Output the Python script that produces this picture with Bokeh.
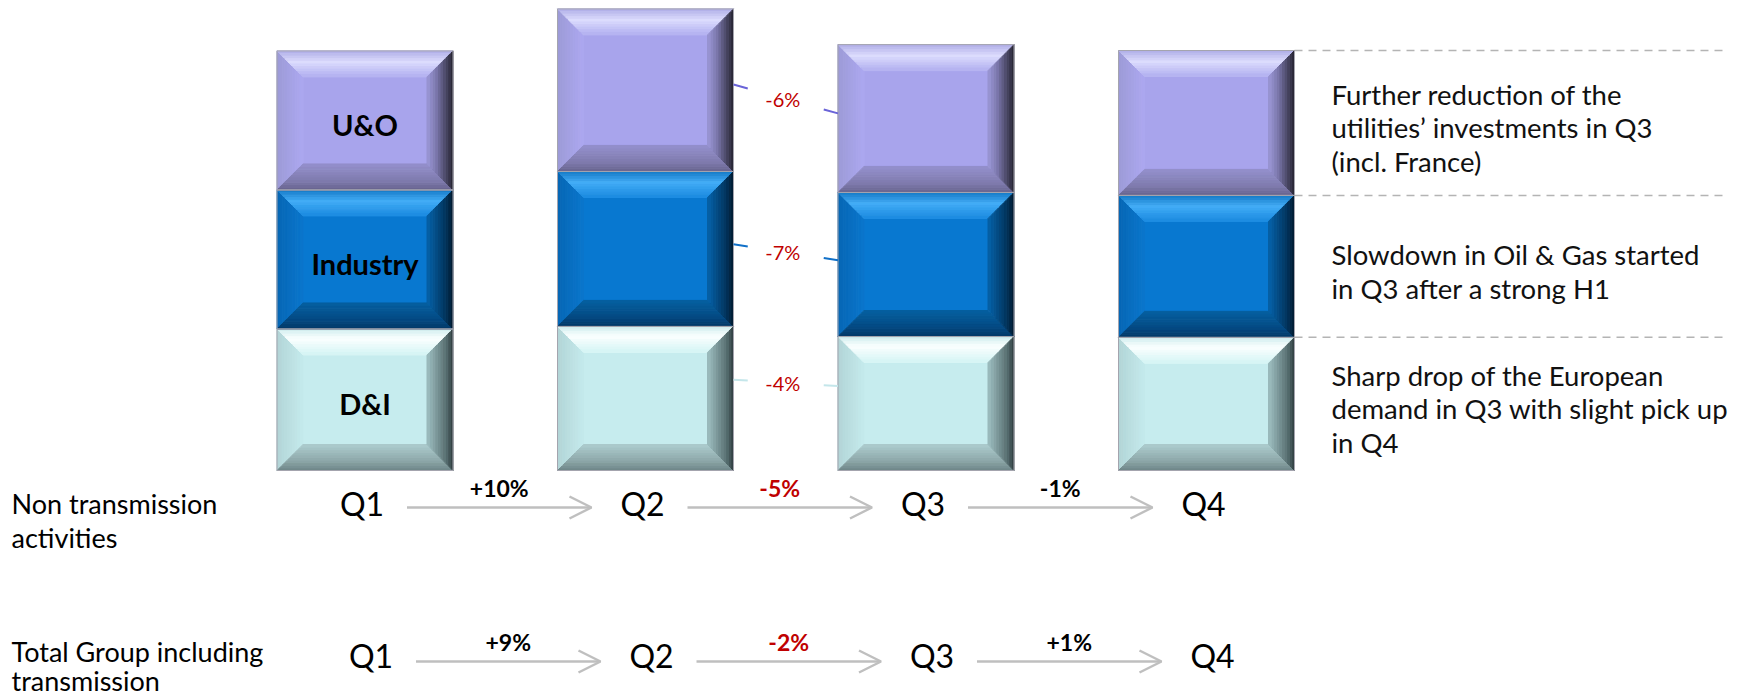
import numpy as np
from bokeh.plotting import figure
from bokeh.models import ColumnDataSource, Range1d, Arrow, OpenHead
from bokeh.core.properties import value
from bokeh.embed import file_html
from bokeh.resources import INLINE

# ---------------- data ----------------
quarters = ["Q1", "Q2", "Q3", "Q4"]
segments = ["D&I", "Industry", "U&O"]          # stacked bottom -> top
di_values = [33.7, 34.3, 31.9, 31.7]
industry_values = [33.1, 36.9, 34.3, 33.8]
uo_values = [33.1, 38.7, 35.2, 34.5]
q2_q3_changes = ["-4%", "-7%", "-6%"]          # D&I, Industry, U&O
non_transmission_changes = ["+10%", "-5%", "-1%"]
total_group_changes = ["+9%", "-2%", "+1%"]
row_titles = [["Non transmission", "activities"],
              ["Total Group including", "transmission"]]
comments = [  # D&I, Industry, U&O
    ["Sharp drop of the European", "demand in Q3 with slight pick up", "in Q4"],
    ["Slowdown in Oil & Gas started", "in Q3 after a strong H1"],
    ["Further reduction of the", "utilities\u2019 investments in Q3", "(incl. France)"],
]

# ---------------- layout / style ----------------
W, H = 1743, 698
X0_PX, DX_PX = 364.5, 280.5      # pixel of Q1 centre, pixels per quarter slot
Y0_PX, PX_UNIT = 470.0, 4.2      # baseline pixel, pixels per value unit
SX, SY = 1.0 / DX_PX, 1.0 / PX_UNIT
HALF_W = 88 * SX
BEVEL = 26

def dy(px):  # pixel offset downward -> data
    return -px * SY

def ypx(py):
    return (Y0_PX - py) * SY

def xpx(px):
    return (px - X0_PX) * SX

PAL = {
    "U&O": dict(face="#a8a4ec",
                top=[(0, "#aeacE6"), (0.45, "#dcdcfd"), (1, "#b2b0f0")],
                left=[(0, "#9c9ad6"), (1, "#aca8f0")],
                right=[(0, "#24222e"), (0.3, "#4a4866"), (0.65, "#7a76aa"), (1, "#9c98d8")],
                bottom=[(0, "#66628c"), (0.35, "#7e7aac"), (1, "#9490cc")]),
    "Industry": dict(face="#0878d0",
                     top=[(0, "#1478c4"), (0.45, "#42acf6"), (1, "#1a8ae0")],
                     left=[(0, "#0666b4"), (1, "#0a76cc")],
                     right=[(0, "#01182c"), (0.3, "#02345c"), (1, "#0562aa")],
                     bottom=[(0, "#033866"), (0.4, "#044a84"), (1, "#0560a0")]),
    "D&I": dict(face="#c6ecee",
                top=[(0, "#cdeced"), (0.4, "#fbffff"), (1, "#d4f4f4")],
                left=[(0, "#b2d4d6"), (1, "#c4eaec")],
                right=[(0, "#2c3a3c"), (0.3, "#5a7274"), (1, "#9ebec0")],
                bottom=[(0, "#6c8486"), (0.4, "#8ea8aa"), (1, "#accccE")]),
}
CONNECT_COL = {"U&O": "#6a64d8", "Industry": "#1070c8", "D&I": "#c4e6ea"}
CONNECT_FRAC = {"U&O": 0.535, "Industry": 0.53, "D&I": 0.63}
RED = "#c00000"


def hex2rgb(h):
    h = h.lstrip("#")
    return tuple(int(h[i:i + 2], 16) for i in (0, 2, 4))


def rgb2hex(c):
    return "#%02x%02x%02x" % tuple(int(round(v)) for v in c)


def interp(stops, t):
    for (t0, c0), (t1, c1) in zip(stops[:-1], stops[1:]):
        if t <= t1:
            f = (t - t0) / (t1 - t0) if t1 > t0 else 0
            a, b = hex2rgb(c0), hex2rgb(c1)
            return rgb2hex([a[k] + (b[k] - a[k]) * f for k in range(3)])
    return stops[-1][1]


p = figure(width=W, height=H,
           x_range=Range1d(xpx(0), xpx(W)), y_range=Range1d(ypx(H), ypx(0)),
           output_backend="svg", toolbar_location=None, min_border=0,
           x_axis_location=None, y_axis_location=None)
p.xgrid.visible = False
p.ygrid.visible = False
p.outline_line_color = None
p.background_fill_color = "white"
p.border_fill_color = "white"

FONT = value("Lato")
seg_values = [di_values, industry_values, uo_values]

# ---------------- bevelled stacked bars ----------------
xs, ys, cols = [], [], []
ox0, ox1, oy0, oy1 = [], [], [], []
bases = [[0.0] * 4 for _ in segments]
N = 10
ts = np.linspace(0, 1, N + 1)
bx, by = BEVEL * SX, BEVEL * SY
for qi in range(len(quarters)):
    x0, x1 = qi - HALF_W, qi + HALF_W
    base = 0.0
    for si, seg in enumerate(segments):
        v = seg_values[si][qi]
        y0, y1 = base, base + v
        bases[si][qi] = base
        base = y1
        pal = PAL[seg]
        ox0.append(x0); ox1.append(x1); oy0.append(y0); oy1.append(y1)
        xs.append([x0 + bx, x1 - bx, x1 - bx, x0 + bx])
        ys.append([y0 + by, y0 + by, y1 - by, y1 - by])
        cols.append(pal["face"])
        for k in range(N):
            a, b = ts[k], ts[k + 1]
            tm = (a + b) / 2
            # left
            xs.append([x0 + a * bx, x0 + a * bx, x0 + b * bx, x0 + b * bx])
            ys.append([y1 - a * by, y0 + a * by, y0 + b * by, y1 - b * by])
            cols.append(interp(pal["left"], tm))
            # bottom
            xs.append([x0 + a * bx, x1 - a * bx, x1 - b * bx, x0 + b * bx])
            ys.append([y0 + a * by, y0 + a * by, y0 + b * by, y0 + b * by])
            cols.append(interp(pal["bottom"], tm))
            # top
            xs.append([x0 + a * bx, x1 - a * bx, x1 - b * bx, x0 + b * bx])
            ys.append([y1 - a * by, y1 - a * by, y1 - b * by, y1 - b * by])
            cols.append(interp(pal["top"], tm))
            # right
            xs.append([x1 - a * bx, x1 - a * bx, x1 - b * bx, x1 - b * bx])
            ys.append([y1 - a * by, y0 + a * by, y0 + b * by, y1 - b * by])
            cols.append(interp(pal["right"], tm))

p.patches(xs="xs", ys="ys", fill_color="c", line_color="c", line_width=1,
          source=ColumnDataSource(dict(xs=xs, ys=ys, c=cols)))
p.quad(left=ox0, right=ox1, bottom=oy0, top=oy1, fill_alpha=0,
       line_color="#a4a4ae", line_width=1)

# segment names inside Q1
p.text(x=[0] * 3,
       y=[bases[si][0] + seg_values[si][0] / 2 + dy(4) for si in range(3)],
       text=segments, text_align="center", text_baseline="middle",
       text_font=FONT, text_font_style="bold", text_font_size="29px",
       text_color="black")

# ---------------- Q2 -> Q3 connectors ----------------
xa, xb = 1 + HALF_W, 2 - HALF_W
xm = (xa + xb) / 2
gap = 38 * SX
cx0, cy0, cx1, cy1, cc = [], [], [], [], []
lx, ly = [], []
for si, seg in enumerate(segments):
    ya = bases[si][1] + CONNECT_FRAC[seg] * seg_values[si][1]
    yb = bases[si][2] + CONNECT_FRAC[seg] * seg_values[si][2]
    slope = (yb - ya) / (xb - xa)
    ym = (ya + yb) / 2
    cx0 += [xa, xm + gap]; cx1 += [xm - gap, xb]
    cy0 += [ya, ym + slope * gap]; cy1 += [ym - slope * gap, yb]
    cc += [CONNECT_COL[seg]] * 2
    lx.append(xm - 3 * SX); ly.append(ym)
p.segment(x0=cx0, y0=cy0, x1=cx1, y1=cy1, line_color=cc, line_width=2)
p.text(x=lx, y=ly, text=q2_q3_changes, text_align="center", text_baseline="middle",
       text_font=FONT, text_font_size="20px", text_color=RED)

# ---------------- dashed guides + comments on the right ----------------
q4_edges = [bases[si][3] for si in range(3)] + [bases[2][3] + seg_values[2][3]]
p.segment(x0=[3 + HALF_W] * 3, x1=[xpx(1723)] * 3, y0=q4_edges[1:], y1=q4_edges[1:],
          line_color="#b4b4b4", line_width=1.5, line_dash="8 6")
tx, ty, tt = [], [], []
LINE = 33.5 * SY
for si in range(3):
    mid = bases[si][3] + seg_values[si][3] / 2 + dy(5)
    lines = comments[si]
    n = len(lines)
    for li, t in enumerate(lines):
        tx.append(xpx(1331))
        ty.append(mid + ((n - 1) / 2 - li) * LINE)
        tt.append(t)
p.text(x=tx, y=ty, text=tt, text_align="left", text_baseline="middle",
       text_font=FONT, text_font_size="27.5px", text_color="#111111")

# ---------------- bottom rows: quarter-to-quarter growth ----------------
rows = [
    dict(changes=non_transmission_changes, dxq=-3, yq=503, ya=507, yl=487,
         colors=["black", RED, "black"], title_y=[503, 537]),
    dict(changes=total_group_changes, dxq=6, yq=655, ya=661, yl=641,
         colors=["black", RED, "black"], title_y=[651, 680]),
]
for ri, r in enumerate(rows):
    qx = [qi + r["dxq"] * SX for qi in range(len(quarters))]
    p.text(x=qx, y=[ypx(r["yq"])] * 4, text=quarters, text_align="center",
           text_baseline="middle", text_font=FONT, text_font_size="32px",
           text_color="black")
    ax0 = [qx[i] + 45 * SX for i in range(3)]
    ax1 = [qx[i + 1] - 51 * SX for i in range(3)]
    src = ColumnDataSource(dict(x0=ax0, x1=ax1, y0=[ypx(r["ya"])] * 3,
                                y1=[ypx(r["ya"])] * 3))
    p.add_layout(Arrow(end=OpenHead(size=22, line_color="#bfbfbf", line_width=2.5),
                       x_start="x0", y_start="y0", x_end="x1", y_end="y1",
                       line_color="#bfbfbf", line_width=2.5, source=src))
    p.text(x=[(a + b) / 2 for a, b in zip(ax0, ax1)], y=[ypx(r["yl"])] * 3,
           text=r["changes"], text_align="center", text_baseline="middle",
           text_font=FONT, text_font_style="bold", text_font_size="23px",
           text_color=r["colors"])
    p.text(x=[xpx(11)] * 2, y=[ypx(v) for v in r["title_y"]], text=row_titles[ri],
           text_align="left", text_baseline="middle", text_font=FONT,
           text_font_size="27px", text_color="black")

open("out.html", "w").write(file_html(p, INLINE))
